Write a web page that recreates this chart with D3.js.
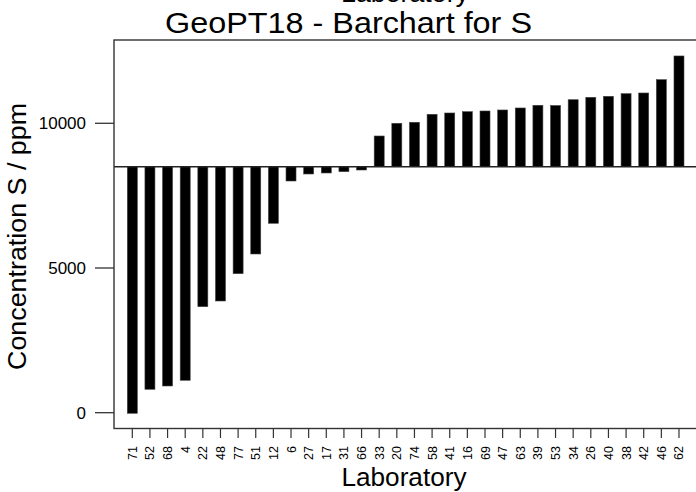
<!DOCTYPE html>
<html>
<head>
<meta charset="utf-8">
<script src="https://cdn.jsdelivr.net/npm/d3@7/dist/d3.min.js"></script>
<style>
  html, body { margin: 0; padding: 0; background: #fff; }
  svg { display: block; font-family: "Liberation Sans", Arial, Helvetica, sans-serif; }
</style>
</head>
<body>
<div id="chart"></div>
<script>
// GeoPT18 results for S, laboratories sorted by reported concentration
const labs = ["71","52","68","4","22","48","77","51","12","6","27","17","31","66","33",
              "20","74","58","41","16","69","47","63","39","53","34","26","40","38","42","46","62"];
const values = [-20, 809, 923, 1120, 3663, 3860, 4803, 5484, 6545, 8006, 8248, 8283, 8328, 8386, 9561,
                10000, 10035, 10311, 10356, 10401, 10425, 10460, 10529, 10622, 10615, 10815, 10898,
                10933, 11023, 11047, 11507, 12326];
const refValue = 8500;              // assigned value, bars hang from this line
const yTicks = [0, 5000, 10000];
const titleText = "GeoPT18 - Barchart for S";
const xTitle = "Laboratory";
const yTitle = "Concentration S / ppm";

const W = 696, H = 492;
const plot = { left: 114, top: 40, bottom: 428.5, right: 740 };
const step = 17.635;
const firstCenter = 132.3;

const svg = d3.select("#chart").append("svg")
  .attr("width", W).attr("height", H);

const y = d3.scaleLinear()
  .domain([-546, 12878])
  .range([plot.bottom, plot.top]);

const x0 = firstCenter - step / 2;
const x = d3.scaleBand()
  .domain(labs)
  .range([x0, x0 + step * labs.length])
  .paddingInner(0.433)
  .paddingOuter(0.2165);

// bars drawn from the reference line to each value
svg.append("g").selectAll("rect")
  .data(labs.map((l, i) => ({ lab: l, v: values[i] })))
  .join("rect")
  .attr("x", d => x(d.lab))
  .attr("width", x.bandwidth())
  .attr("y", d => Math.min(y(d.v), y(refValue)))
  .attr("height", d => Math.abs(y(d.v) - y(refValue)))
  .attr("fill", "#000")
  .attr("stroke", "#444")
  .attr("stroke-width", 0.6);

// reference line across the plot
svg.append("line")
  .attr("x1", plot.left).attr("x2", plot.right)
  .attr("y1", y(refValue)).attr("y2", y(refValue))
  .attr("stroke", "#222").attr("stroke-width", 1.4);

// frame
svg.append("rect")
  .attr("x", plot.left).attr("y", plot.top)
  .attr("width", plot.right - plot.left).attr("height", plot.bottom - plot.top)
  .attr("fill", "none").attr("stroke", "#333").attr("stroke-width", 1.4);

// y axis ticks and labels
const yAxis = svg.append("g");
yAxis.selectAll("line").data(yTicks).join("line")
  .attr("x1", 95).attr("x2", plot.left)
  .attr("y1", d => y(d)).attr("y2", d => y(d))
  .attr("stroke", "#333").attr("stroke-width", 1.3);
yAxis.selectAll("text").data(yTicks).join("text")
  .attr("x", 86).attr("y", d => y(d))
  .attr("dy", "0.36em")
  .attr("text-anchor", "end")
  .attr("font-size", 17)
  .attr("fill", "#000")
  .text(d => d);

// x axis ticks and rotated lab labels
const xAxis = svg.append("g");
xAxis.selectAll("line").data(labs).join("line")
  .attr("x1", d => x(d) + x.bandwidth() / 2).attr("x2", d => x(d) + x.bandwidth() / 2)
  .attr("y1", plot.bottom).attr("y2", 438)
  .attr("stroke", "#333").attr("stroke-width", 1.2);
xAxis.selectAll("text").data(labs).join("text")
  .attr("transform", d => `translate(${x(d) + x.bandwidth() / 2},446) rotate(-90)`)
  .attr("dy", "0.36em")
  .attr("text-anchor", "end")
  .attr("font-size", 12.5)
  .attr("fill", "#000")
  .text(d => d);

// titles
svg.append("text")
  .attr("x", 348.5).attr("y", 33)
  .attr("text-anchor", "middle")
  .attr("font-size", 29)
  .attr("textLength", 367).attr("lengthAdjust", "spacingAndGlyphs")
  .text(titleText);

svg.append("text")
  .attr("x", 404).attr("y", 486)
  .attr("text-anchor", "middle")
  .attr("font-size", 26.5)
  .attr("textLength", 125).attr("lengthAdjust", "spacingAndGlyphs")
  .text(xTitle);

// axis title of the panel above, only its lower edge shows
svg.append("text")
  .attr("x", 405).attr("y", 1.5)
  .attr("text-anchor", "middle")
  .attr("font-size", 26.5)
  .attr("textLength", 128).attr("lengthAdjust", "spacingAndGlyphs")
  .text(xTitle);

svg.append("text")
  .attr("transform", "translate(26,236.5) rotate(-90)")
  .attr("text-anchor", "middle")
  .attr("font-size", 25)
  .attr("textLength", 267).attr("lengthAdjust", "spacingAndGlyphs")
  .text(yTitle);
</script>
</body>
</html>
